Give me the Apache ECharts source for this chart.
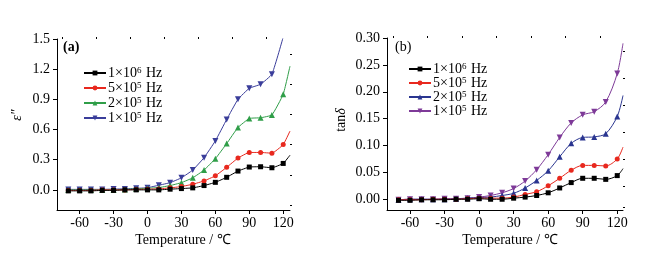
<!DOCTYPE html>
<html><head><meta charset="utf-8">
<script src="https://cdn.jsdelivr.net/npm/echarts@6/dist/echarts.min.js"></script>
<style>html,body{margin:0;padding:0;background:#fff}#c{width:661px;height:257px}</style>
</head><body><div id="c"></div>
<script>
// ---- data ----
var temps = [-70,-60,-50,-40,-30,-20,-10,0,10,20,30,40,50,60,70,80,90,100,110,120];
var freqBase = ['1×10', '5×10', '2×10', '1×10'];
var freqExp = ['6', '5', '5', '5'];
var xTickLabels = [-60,-30,0,30,60,90,120];
var xMinorTicks = [-75,-45,-15,15,45,75,105];
var epsTicks = [0,0.3,0.6,0.9,1.2,1.5];
var epsMinor = [-0.15,0.15,0.45,0.75,1.05,1.35];
var tanTicks = [0,0.05,0.10,0.15,0.20,0.25,0.30];
var tanMinor = [-0.015,0.025,0.075,0.125,0.175,0.225,0.275];

var epsTailTemp = 126;
var eps1M   = [-0.01,-0.01,-0.01,-0.005,-0.005,0,0,0,0,0.007,0.013,0.02,0.043,0.075,0.125,0.187,0.227,0.23,0.22,0.263];
var eps500k = [-0.005,-0.005,-0.005,0,0,0,0.005,0.007,0.01,0.02,0.033,0.056,0.089,0.14,0.224,0.316,0.372,0.372,0.365,0.45];
var eps200k = [0,0,0,0,0,0.005,0.01,0.016,0.023,0.043,0.072,0.12,0.197,0.31,0.46,0.62,0.71,0.717,0.745,0.95];
var eps100k = [0.005,0.005,0.005,0.005,0.008,0.01,0.015,0.022,0.046,0.072,0.12,0.197,0.32,0.487,0.70,0.90,1.01,1.05,1.15,1.52];
var epsTails = [0.345, 0.585, 1.23, 1.8];

var tanTailTemp = 125;
var tan1M   = [-0.002,-0.002,-0.001,-0.001,-0.001,0,0,0.001,0,0,0.002,0.004,0.007,0.012,0.021,0.031,0.039,0.039,0.037,0.044];
var tan500k = [-0.001,-0.001,-0.001,0,0,0,0.001,0.002,0.002,0.002,0.004,0.009,0.014,0.025,0.039,0.054,0.063,0.063,0.062,0.075];
var tan200k = [-0.001,0,0,0,0,0.001,0.002,0.003,0.004,0.007,0.011,0.021,0.035,0.053,0.079,0.104,0.115,0.116,0.122,0.154];
var tan100k = [-0.001,0,0,0,0.001,0.001,0.002,0.004,0.007,0.012,0.02,0.034,0.055,0.083,0.115,0.142,0.157,0.163,0.181,0.234];
var tanTails = [0.057, 0.097, 0.193, 0.29];

// ---- styles ----
var FONT = '"Liberation Serif", "Times New Roman", serif';
var epsColors = ['#000000', '#e8281e', '#2f9e48', '#3a3d9a'];
var tanColors = ['#000000', '#e8281e', '#2a3590', '#7e3a98'];
var symbols = ['rect', 'circle', 'triangle', 'triangle'];
var rotates = [0, 0, 0, 180];

function nameOf(i, panel) { return freqBase[i] + '^' + freqExp[i] + ' Hz' + (panel ? '\u200b' : ''); }

function mkSeries(vals, tailT, tailV, i, panel, colors) {
  var data = temps.map(function (t, k) { return [t, vals[k]]; });
  data.push({ value: [tailT, tailV], symbol: 'none' });
  return {
    type: 'line', name: nameOf(i, panel),
    xAxisIndex: panel ? 2 : 0, yAxisIndex: panel ? 2 : 0,
    data: data, symbol: symbols[i], symbolRotate: rotates[i],
    symbolSize: symbols[i] === 'rect' ? 5 : (symbols[i] === 'circle' ? 5 : 6),
    smooth: panel ? 0.3 : 0.12,
    lineStyle: { color: colors[i], width: 1 },
    itemStyle: { color: colors[i] },
    emphasis: { disabled: true },
    z: 10 - i, animation: false
  };
}

function xAxes(gi, max) {
  return [{
    type: 'value', gridIndex: gi, min: -80, max: max,
    axisLine: { show: true, onZero: false, lineStyle: { color: '#000', width: 1 } },
    axisTick: { show: true, length: 4, customValues: xTickLabels, lineStyle: { color: '#000' } },
    axisLabel: { show: true, customValues: xTickLabels, margin: 6, color: '#000', fontFamily: FONT, fontSize: 14 },
    splitLine: { show: false }
  }, {
    type: 'value', gridIndex: gi, min: -80, max: max,
    axisLine: { show: false, onZero: false },
    axisTick: { show: true, length: 2, customValues: xMinorTicks, lineStyle: { color: '#000' } },
    axisLabel: { show: false }, splitLine: { show: false }
  }];
}
function yAxes(gi, min, max, ticks, minor, fmt) {
  return [{
    type: 'value', gridIndex: gi, min: min, max: max,
    axisLine: { show: true, onZero: false, lineStyle: { color: '#000', width: 1 } },
    axisTick: { show: true, length: 4, customValues: ticks, lineStyle: { color: '#000' } },
    axisLabel: { show: true, customValues: ticks, margin: 7, color: '#000', fontFamily: FONT, fontSize: 14,
      formatter: function (v) { return v.toFixed(fmt); } },
    splitLine: { show: false }
  }, {
    type: 'value', gridIndex: gi, min: min, max: max,
    axisLine: { show: false, onZero: false },
    axisTick: { show: true, length: 2, customValues: minor, lineStyle: { color: '#000' } },
    axisLabel: { show: false }, splitLine: { show: false }
  }];
}

var legendRich = {
  n: { fontFamily: FONT, fontSize: 14, color: '#000', lineHeight: 14 },
  s: { fontFamily: FONT, fontSize: 9, color: '#000', verticalAlign: 'top', lineHeight: 14, padding: [0, 1, 0, 0] }
};
function legendFmt(name) {
  var clean = name.replace('\u200b', '');
  var parts = clean.split('^');
  var rest = parts[1].split(' ');
  return '{n|' + parts[0] + '}{s|' + rest[0] + '}{n| ' + rest.slice(1).join(' ') + '}';
}
function mkLegend(panel, left, top, gap) {
  return {
    orient: 'vertical', left: left, top: top, itemGap: gap, itemWidth: 22, itemHeight: 6,
    padding: 0, selectedMode: false,
    data: [0,1,2,3].map(function (i) { return nameOf(i, panel); }),
    formatter: legendFmt,
    textStyle: { rich: legendRich, padding: [0, 0, 0, -3] }
  };
}

var series = [];
[eps1M, eps500k, eps200k, eps100k].forEach(function (v, i) { series.push(mkSeries(v, epsTailTemp, epsTails[i], i, 0, epsColors)); });
[tan1M, tan500k, tan200k, tan100k].forEach(function (v, i) { series.push(mkSeries(v, tanTailTemp, tanTails[i], i, 1, tanColors)); });

var chart = echarts.init(document.getElementById('c'), null, { renderer: 'canvas' });
chart.setOption({
  backgroundColor: '#fff', animation: false,
  grid: [
    { left: 57, top: 39, width: 233, height: 171, containLabel: false, outerBoundsMode: 'none' },
    { left: 387, top: 38, width: 236, height: 172, containLabel: false, outerBoundsMode: 'none' }
  ],
  xAxis: xAxes(0, 126).concat(xAxes(1, 125)),
  yAxis: yAxes(0, -0.2, 1.5, epsTicks, epsMinor, 1).concat(yAxes(1, -0.02, 0.30, tanTicks, tanMinor, 2)),
  legend: [mkLegend(0, 83, 66, 1), mkLegend(1, 408, 62, 0)],
  graphic: [
    { type: 'text', left: 63, top: 40, style: { text: '(a)', font: 'bold 14px ' + FONT, fill: '#000' } },
    { type: 'text', left: 395, top: 40, style: { text: '(b)', font: '14px ' + FONT, fill: '#000' } },
    { type: 'text', x: 17, y: 115, rotation: Math.PI / 2,
      style: { text: 'ε″', font: 'italic 14px ' + FONT, fill: '#000', align: 'center', verticalAlign: 'middle' } },
    { type: 'text', x: 341, y: 120, rotation: Math.PI / 2,
      style: { text: '{r|tan}{i|δ}', align: 'center', verticalAlign: 'middle',
        rich: { r: { font: '14px ' + FONT, fill: '#000' }, i: { font: 'italic 14px ' + FONT, fill: '#000' } } } },
    { type: 'text', x: 183, y: 240,
      style: { text: 'Temperature / ℃', font: '14px ' + FONT, fill: '#000', align: 'center', verticalAlign: 'middle' } },
    { type: 'text', x: 510, y: 240,
      style: { text: 'Temperature / ℃', font: '14px ' + FONT, fill: '#000', align: 'center', verticalAlign: 'middle' } }
  ],
  series: series
});
</script></body></html>
